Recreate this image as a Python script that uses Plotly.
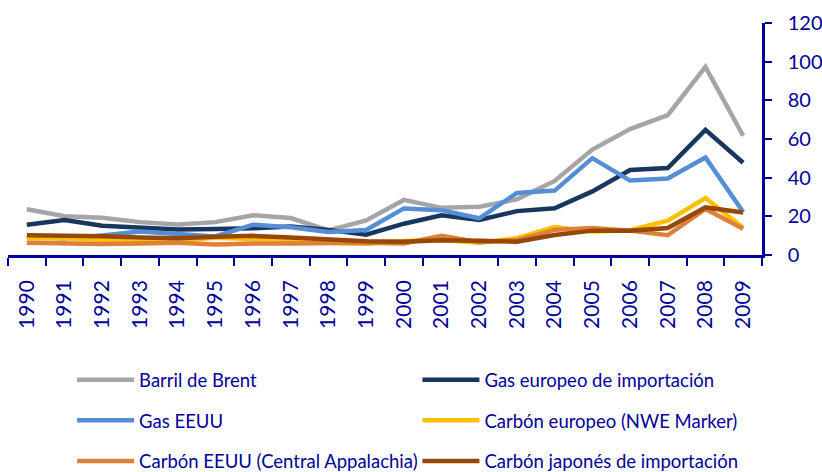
import plotly.graph_objects as go

years = [str(y) for y in range(1990, 2010)]

brent = [23.7, 20.0, 19.3, 17.0, 15.8, 17.0, 20.6, 19.1, 12.7, 17.9,
         28.5, 24.4, 25.0, 28.8, 38.3, 54.5, 65.1, 72.4, 97.3, 61.7]
gas_europeo = [15.6, 18.1, 15.1, 14.1, 13.2, 13.4, 13.8, 14.8, 13.0, 10.5,
               16.2, 20.5, 18.1, 22.7, 24.2, 32.9, 44.0, 45.0, 64.7, 47.7]
gas_eeuu = [9.3, 8.5, 10.1, 12.1, 10.9, 9.6, 15.7, 14.4, 11.9, 12.9,
            24.1, 23.2, 19.0, 32.1, 33.3, 50.1, 38.5, 39.6, 50.4, 22.2]
carbon_europeo = [8.7, 8.6, 7.7, 6.7, 7.4, 8.9, 8.3, 7.8, 6.4, 5.8,
                  7.2, 7.8, 6.3, 8.7, 14.4, 12.1, 12.8, 17.8, 29.5, 14.1]
carbon_eeuu = [6.3, 5.8, 5.7, 6.0, 6.3, 5.4, 6.0, 6.0, 6.2, 6.3,
               6.0, 10.0, 6.6, 7.7, 13.0, 14.0, 12.6, 10.2, 23.8, 13.6]
carbon_japones = [10.2, 10.1, 9.7, 9.1, 8.7, 9.5, 9.9, 9.1, 8.1, 7.1,
                  6.9, 7.6, 7.4, 6.9, 10.3, 12.6, 12.6, 14.0, 24.6, 22.0]

y_ticks = [0, 20, 40, 60, 80, 100, 120]

series = [
    ("Barril de Brent", brent, "#A5A5A5", "legend"),
    ("Gas europeo de importación", gas_europeo, "#17375E", "legend2"),
    ("Gas EEUU", gas_eeuu, "#558ED5", "legend"),
    ("Carbón europeo (NWE Marker)", carbon_europeo, "#FFC000", "legend2"),
    ("Carbón EEUU (Central Appalachia)", carbon_eeuu, "#DD803A", "legend"),
    ("Carbón japonés de importación", carbon_japones, "#974706", "legend2"),
]

AX = "#000099"
FONT = "Lato"

fig = go.Figure()
for i, (name, vals, color, leg) in enumerate(series):
    fig.add_trace(go.Scatter(
        x=years, y=vals, name=name, mode="lines",
        line=dict(color=color, width=4.5),
        legend=leg, legendgroup=str(i),
    ))

leg_common = dict(yanchor="top", xanchor="left", orientation="v",
                  tracegroupgap=13.5, itemwidth=57,
                  font=dict(family=FONT, size=18.5, color=AX),
                  bgcolor="rgba(0,0,0,0)")

fig.update_layout(
    width=822, height=472,
    margin=dict(l=8, r=60, t=23, b=217, autoexpand=False),
    paper_bgcolor="white", plot_bgcolor="white",
    font=dict(family=FONT, color=AX),
    showlegend=True,
    legend=dict(x=0.085, y=-0.458, **leg_common),
    legend2=dict(x=0.543, y=-0.458, **leg_common),
    xaxis=dict(
        type="category", range=[-0.5, 19.5], automargin=False,
        tickson="boundaries", ticks="outside", ticklen=8, tickwidth=2,
        tickcolor=AX, showline=True, linecolor=AX, linewidth=2.5,
        tickangle=-90, tickfont=dict(family=FONT, size=21, color=AX),
        showgrid=False, zeroline=False, ticklabelstandoff=14,
    ),
    yaxis=dict(
        side="right", range=[0, 120], tickvals=y_ticks, automargin=False,
        ticks="outside", ticklen=7, tickwidth=2, tickcolor=AX,
        showline=True, linecolor=AX, linewidth=2.5,
        tickfont=dict(family=FONT, size=20, color=AX),
        showgrid=False, zeroline=False, ticklabelstandoff=12,
    ),
)

fig.write_html(
    "out.html",
    config={"displayModeBar": False},
    post_script="document.body.style.margin='0';document.body.style.overflow='hidden';",
)
